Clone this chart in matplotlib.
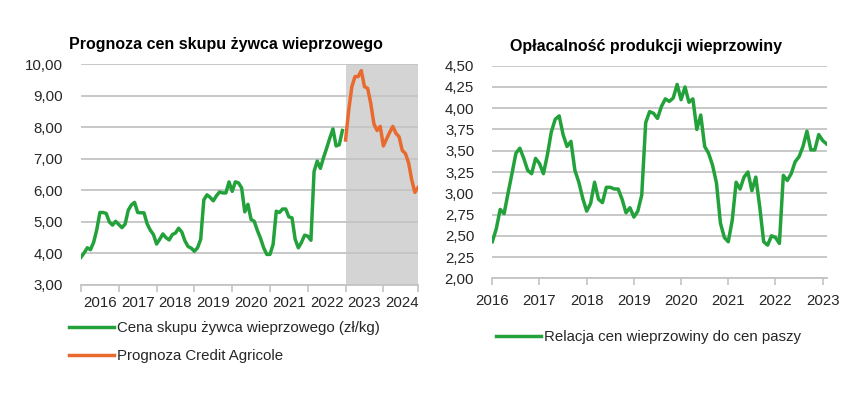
import matplotlib
matplotlib.use("Agg")
import matplotlib.pyplot as plt
from matplotlib.ticker import FuncFormatter, FixedLocator

plt.rcParams['font.family'] = ['Liberation Sans', 'DejaVu Sans']

# --- data (monthly) ---
years_left = ['2016', '2017', '2018', '2019', '2020', '2021', '2022', '2023', '2024']
# cena skupu zywca wieprzowego, Jan 2016 - Dec 2022 (zl/kg)
price_hist = [3.88, 4.02, 4.18, 4.12, 4.35, 4.75, 5.30, 5.30, 5.27, 5.00, 4.90, 5.02,
              4.92, 4.82, 4.93, 5.37, 5.54, 5.62, 5.30, 5.29, 5.29, 4.94, 4.74, 4.60,
              4.30, 4.45, 4.62, 4.50, 4.43, 4.60, 4.65, 4.80, 4.68, 4.40, 4.22, 4.17,
              4.07, 4.18, 4.45, 5.70, 5.86, 5.78, 5.67, 5.83, 5.95, 5.92, 5.92, 6.27,
              5.97, 6.27, 6.24, 6.08, 5.32, 5.56, 5.08, 5.02, 4.73, 4.48, 4.18, 3.97,
              3.97, 4.29, 5.34, 5.30, 5.41, 5.41, 5.16, 5.13, 4.45, 4.18, 4.35, 4.58,
              4.55, 4.42, 6.60, 6.93, 6.70, 7.04, 7.34, 7.66, 7.95, 7.41, 7.45, 7.90]
# prognoza Credit Agricole, Jan 2023 - Dec 2024
price_fcst = [7.60, 8.54, 9.29, 9.61, 9.61, 9.80, 9.29, 9.24, 8.76, 8.11, 7.90, 8.03,
              7.41, 7.63, 7.84, 8.03, 7.81, 7.70, 7.27, 7.17, 6.88, 6.34, 5.94, 6.09]

years_right = ['2016', '2017', '2018', '2019', '2020', '2021', '2022', '2023']
# relacja cen wieprzowiny do cen paszy, Jan 2016 - Feb 2023
ratio = [2.43, 2.58, 2.81, 2.76, 3.00, 3.23, 3.47, 3.53, 3.41, 3.27, 3.23, 3.41,
         3.35, 3.23, 3.45, 3.72, 3.87, 3.91, 3.69, 3.55, 3.61, 3.27, 3.13, 2.94,
         2.79, 2.88, 3.13, 2.93, 2.89, 3.07, 3.07, 3.05, 3.05, 2.93, 2.77, 2.83,
         2.72, 2.79, 2.98, 3.83, 3.96, 3.94, 3.88, 4.02, 4.11, 4.08, 4.12, 4.28,
         4.10, 4.25, 4.07, 4.11, 3.75, 3.92, 3.55, 3.47, 3.33, 3.12, 2.65, 2.48,
         2.43, 2.68, 3.13, 3.05, 3.19, 3.25, 3.03, 3.19, 2.84, 2.43, 2.39, 2.50,
         2.48, 2.41, 3.21, 3.15, 3.23, 3.37, 3.43, 3.55, 3.73, 3.51, 3.51, 3.69,
         3.62, 3.58]

green = '#23a23b'
orange = '#e86a2e'
grid_c = '#c4c4c4'
text_c = '#262626'
fs = 10.8

W, H = 866, 398
fig = plt.figure(figsize=(W / 100, H / 100), dpi=100)


def box(x0, y0, x1, y1):
    return [x0 / W, 1 - y1 / H, (x1 - x0) / W, (y1 - y0) / H]


comma = FuncFormatter(lambda v, p: f"{v:.2f}".replace('.', ','))


def style(ax):
    for s in ['top', 'right', 'left']:
        ax.spines[s].set_visible(False)
    ax.spines['bottom'].set_color(grid_c)
    ax.spines['bottom'].set_linewidth(1.3)
    ax.yaxis.grid(True, color=grid_c, linewidth=1.3)
    ax.set_axisbelow(True)
    ax.tick_params(axis='y', length=0, pad=13, labelsize=fs, colors=text_c)
    ax.yaxis.set_major_formatter(comma)


# ---- left chart ----
ax1 = fig.add_axes(box(81, 64.3, 418, 285))
n_hist = len(price_hist)
x_hist = list(range(n_hist))
x_fcst = list(range(n_hist, n_hist + len(price_fcst)))
ax1.axvspan(x_fcst[0], x_fcst[-1], color='#d4d4d4', zorder=0.2, lw=0)
ax1.plot(x_hist, price_hist, color=green, lw=2.5, solid_joinstyle='round',
         label='Cena skupu żywca wieprzowego (zł/kg)')
ax1.plot(x_fcst, price_fcst, color=orange, lw=2.5, solid_joinstyle='round',
         label='Prognoza Credit Agricole')
ax1.set_xlim(0, x_fcst[-1])
ax1.set_ylim(3, 10)
ax1.set_yticks(range(3, 11))
style(ax1)
ax1.xaxis.set_major_locator(FixedLocator([12 * k for k in range(len(years_left))] + [x_fcst[-1]]))
ax1.xaxis.set_minor_locator(FixedLocator([12 * k + 6 for k in range(len(years_left))]))
ax1.set_xticklabels([])
ax1.set_xticklabels(years_left, minor=True)
ax1.tick_params(axis='x', which='major', length=5, width=1.2, color=grid_c, direction='out')
ax1.tick_params(axis='x', which='minor', length=0, pad=8, labelsize=fs, colors=text_c)
fig.text(226 / W, 1 - 45 / H, 'Prognoza cen skupu żywca wieprzowego', ha='center', va='center',
         fontsize=11.5, fontweight='bold', color='black')
fig.legend(handles=ax1.get_lines(), loc='upper left', bbox_to_anchor=(69 / W, 1 - 321 / H),
           frameon=False, fontsize=fs, handlelength=3.0, handletextpad=0.2,
           labelspacing=0.95, borderpad=0, borderaxespad=0, labelcolor=text_c)

# ---- right chart ----
ax2 = fig.add_axes(box(492.3, 65.7, 826.6, 278.3))
x_r = list(range(len(ratio)))
ax2.plot(x_r, ratio, color=green, lw=2.5, solid_joinstyle='round',
         label='Relacja cen wieprzowiny do cen paszy')
ax2.set_xlim(0, x_r[-1])
ax2.set_ylim(2, 4.5)
ax2.set_yticks([2 + 0.25 * k for k in range(11)])
style(ax2)
ax2.set_xticks([12 * k for k in range(len(years_right))])
ax2.set_xticklabels(years_right)
ax2.tick_params(axis='x', length=5, width=1.2, color=grid_c, pad=6, labelsize=fs, labelcolor=text_c)
fig.text(646 / W, 1 - 47 / H, 'Opłacalność produkcji wieprzowiny', ha='center', va='center',
         fontsize=11.5, fontweight='bold', color='black')
fig.legend(handles=ax2.get_lines(), loc='upper left', bbox_to_anchor=(496 / W, 1 - 330 / H),
           frameon=False, fontsize=fs, handlelength=3.0, handletextpad=0.2,
           borderpad=0, borderaxespad=0, labelcolor=text_c)

fig.savefig('out.png', dpi=100)
